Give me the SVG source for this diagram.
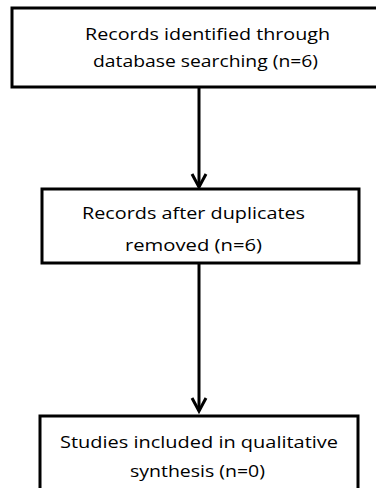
<svg xmlns="http://www.w3.org/2000/svg" width="376" height="488" viewBox="0 0 376 488">
<style>
.box{fill:#fff;stroke:#000;stroke-width:3}
.t{font-family:"Open Sans","Noto Sans","Liberation Sans",sans-serif;font-size:17px;fill:#000}
.c{fill:none;stroke:#000;stroke-width:3}
</style>
<rect width="376" height="488" fill="#fff"/>
<g id="connectors">
<line class="c" x1="199" y1="88" x2="199" y2="187"/>
<polyline class="c" points="192,174 199,187 206,174"/>
<line class="c" x1="199" y1="264" x2="199" y2="411"/>
<polyline class="c" points="192,398 199,411 206,398"/>
</g>
<g id="node1">
<rect class="box" x="12" y="8" width="380" height="79"/>
<text class="t" x="85" y="40" textLength="245" lengthAdjust="spacingAndGlyphs">Records identified through</text>
<text class="t" x="93" y="67" textLength="225" lengthAdjust="spacingAndGlyphs">database searching (n=6)</text>
</g>
<g id="node2">
<rect class="box" x="42" y="189" width="317" height="74"/>
<text class="t" x="82" y="219" textLength="223" lengthAdjust="spacingAndGlyphs">Records after duplicates</text>
<text class="t" x="125" y="251" textLength="137" lengthAdjust="spacingAndGlyphs">removed (n=6)</text>
</g>
<g id="node3">
<rect class="box" x="40" y="416" width="318" height="90"/>
<text class="t" x="60" y="448" textLength="278" lengthAdjust="spacingAndGlyphs">Studies included in qualitative</text>
<text class="t" x="130" y="477" textLength="135" lengthAdjust="spacingAndGlyphs">synthesis (n=0)</text>
</g>
</svg>
